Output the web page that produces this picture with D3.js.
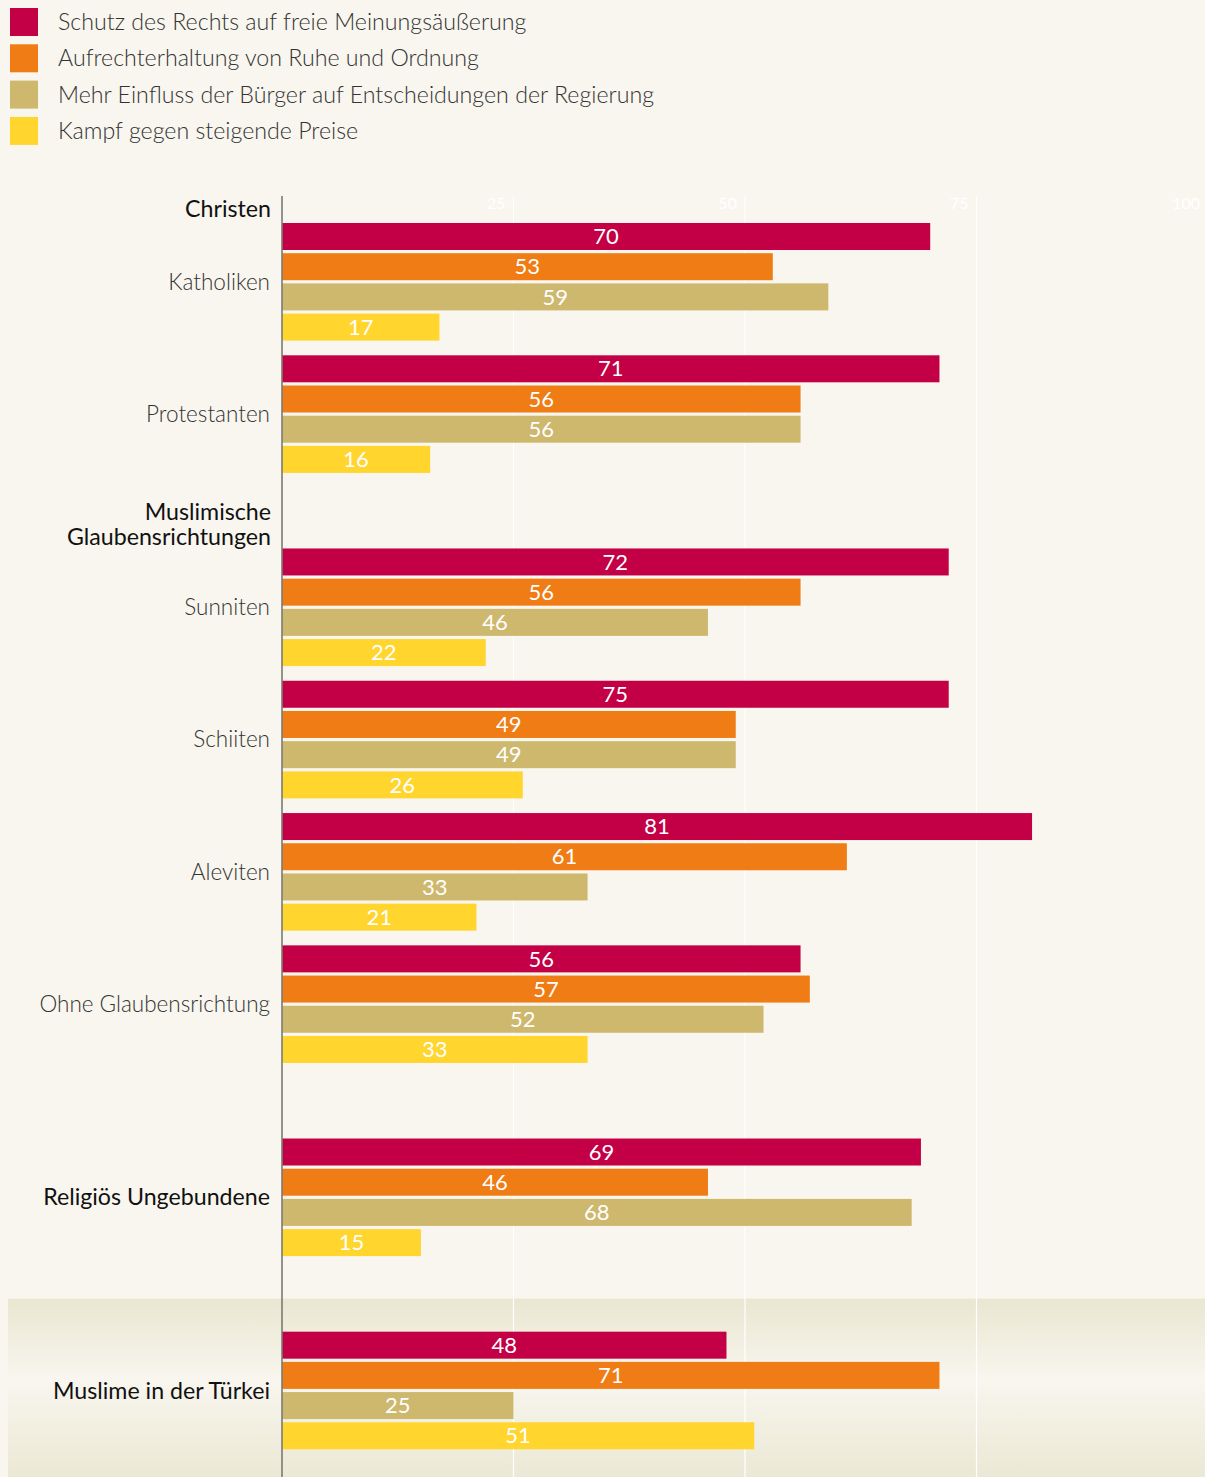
<!DOCTYPE html>
<html>
<head>
<meta charset="utf-8">
<script src="https://cdn.jsdelivr.net/npm/d3@7/dist/d3.min.js"></script>
<style>
  html, body { margin: 0; padding: 0; background: #f8f6ee; }
  svg { display: block; font-family: Lato, "Open Sans", sans-serif; }
</style>
</head>
<body>
<svg id="chart"></svg>
<script>
// series (legend order)
const seriesNames = [
  "Schutz des Rechts auf freie Meinungsäußerung",
  "Aufrechterhaltung von Ruhe und Ordnung",
  "Mehr Einfluss der Bürger auf Entscheidungen der Regierung",
  "Kampf gegen steigende Preise"
];
const seriesColors = ["#c30045", "#ef7c14", "#cdb86e", "#ffd52e"];

// groups, in drawing order
const groupNames = ["Katholiken", "Protestanten", "Sunniten", "Schiiten", "Aleviten",
  "Ohne Glaubensrichtung", "Religiös Ungebundene", "Muslime in der Türkei"];
const groupSection = ["Christen", "Christen", "Muslim", "Muslim", "Muslim", "Muslim", "Ungebunden", "Tuerkei"];
const groupBold = [false, false, false, false, false, false, true, true];

// values per series, one per group
const meinung  = [70, 71, 72, 75, 81, 56, 69, 48];
const ordnung  = [53, 56, 56, 49, 61, 57, 46, 71];
const einfluss = [59, 56, 46, 49, 33, 52, 68, 25];
const preise   = [17, 16, 22, 26, 21, 33, 15, 51];
const seriesValues = [meinung, ordnung, einfluss, preise];

// in the source the "75" bar of Schiiten is drawn at the length of 72
const drawnLength = { "Schiiten-0": 72 };

const ticks = [25, 50, 75, 100];

const W = 1205, H = 1477;
const svg = d3.select("#chart").attr("width", W).attr("height", H);

// legend
const legend = svg.append("g");
seriesNames.forEach((name, i) => {
  const g = legend.append("g").attr("transform", `translate(10,${8 + i * 36.3})`);
  g.append("rect").attr("width", 28).attr("height", 28).attr("fill", seriesColors[i]);
  g.append("text")
    .attr("x", 48).attr("y", 22)
    .style("font-size", "23.2px").style("font-weight", 300).style("fill", "#333")
    .text(name);
});

// scales
const x = d3.scaleLinear().domain([0, 100]).range([282, 1208]);

// group top positions: one unit per group, extra gap at each new section
const sectionGap = 0.46;
const groupUnits = [];
let u = 0;
groupNames.forEach((g, i) => {
  if (i > 0 && groupSection[i] !== groupSection[i - 1]) u += sectionGap;
  groupUnits.push(u);
  u += 1;
});
const yGroup = d3.scaleLinear().domain([0, 1]).range([223, 223 + 132.3]);
const yBar = d3.scaleBand().domain(d3.range(4)).range([0, 117.6]).paddingInner(0.106);
const groupH = 117.6;

// Türkei band
const tIdx = groupNames.length - 1;
const defs = svg.append("defs");
const grad = defs.append("linearGradient").attr("id", "band").attr("x1", 0).attr("x2", 0).attr("y1", 0).attr("y2", 1);
grad.append("stop").attr("offset", "0%").attr("stop-color", "#e9e6d1");
grad.append("stop").attr("offset", "45%").attr("stop-color", "#f8f6ee");
grad.append("stop").attr("offset", "100%").attr("stop-color", "#ebe8d5");
const bandTop = yGroup(groupUnits[tIdx]) - 33;
svg.append("rect")
  .attr("x", 8).attr("y", bandTop)
  .attr("width", W - 8).attr("height", H - bandTop)
  .attr("fill", "url(#band)");

// gridlines + tick labels
const gridTop = 196;
svg.append("g").selectAll("line")
  .data(ticks)
  .join("line")
  .attr("x1", d => x(d)).attr("x2", d => x(d))
  .attr("y1", gridTop).attr("y2", H)
  .attr("stroke", "#fff").attr("stroke-width", 1.2);
svg.append("g").selectAll("text")
  .data(ticks)
  .join("text")
  .attr("x", d => x(d) - 8).attr("y", 209)
  .attr("text-anchor", "end")
  .style("font-size", "16px").style("fill", "#fff")
  .text(d => d);

// bars
const rows = [];
groupNames.forEach((g, gi) => {
  seriesValues.forEach((vals, si) => {
    const key = `${g}-${si}`;
    rows.push({
      group: g, gi, si,
      value: vals[gi],
      len: drawnLength[key] !== undefined ? drawnLength[key] : vals[gi]
    });
  });
});

const barG = svg.append("g");
barG.selectAll("rect")
  .data(rows)
  .join("rect")
  .attr("x", x(0))
  .attr("y", d => yGroup(groupUnits[d.gi]) + yBar(d.si))
  .attr("width", d => x(d.len) - x(0))
  .attr("height", yBar.bandwidth())
  .attr("fill", d => seriesColors[d.si]);

barG.selectAll("text")
  .data(rows)
  .join("text")
  .attr("x", d => (x(0) + x(d.len)) / 2)
  .attr("y", d => yGroup(groupUnits[d.gi]) + yBar(d.si) + yBar.bandwidth() / 2)
  .attr("text-anchor", "middle")
  .attr("dy", "0.35em")
  .style("font-size", "22px").style("fill", "#fff")
  .text(d => d.value);

// axis line
svg.append("line")
  .attr("x1", x(0)).attr("x2", x(0))
  .attr("y1", gridTop).attr("y2", H)
  .attr("stroke", "#7a7a72").attr("stroke-width", 1.6);

// group labels
svg.append("g").selectAll("text")
  .data(groupNames)
  .join("text")
  .attr("x", 270)
  .attr("y", (d, i) => yGroup(groupUnits[i]) + groupH / 2)
  .attr("dy", "0.35em")
  .attr("text-anchor", "end")
  .style("font-size", (d, i) => groupBold[i] ? "23.2px" : "22.5px")
  .style("font-weight", (d, i) => groupBold[i] ? 400 : 300)
  .style("fill", (d, i) => groupBold[i] ? "#111" : "#333")
  .text(d => d);

// section headers
const headers = [
  { lines: ["Christen"], first: 0, offset: 6 },
  { lines: ["Muslimische", "Glaubensrichtungen"], first: 2, offset: 3 }
];
headers.forEach(h => {
  const base = yGroup(groupUnits[h.first]) - h.offset;
  h.lines.forEach((line, li) => {
    svg.append("text")
      .attr("x", 271)
      .attr("y", base - (h.lines.length - 1 - li) * 25)
      .attr("text-anchor", "end")
      .style("font-size", "23.2px").style("font-weight", 400).style("fill", "#111")
      .text(line);
  });
});
</script>
</body>
</html>
